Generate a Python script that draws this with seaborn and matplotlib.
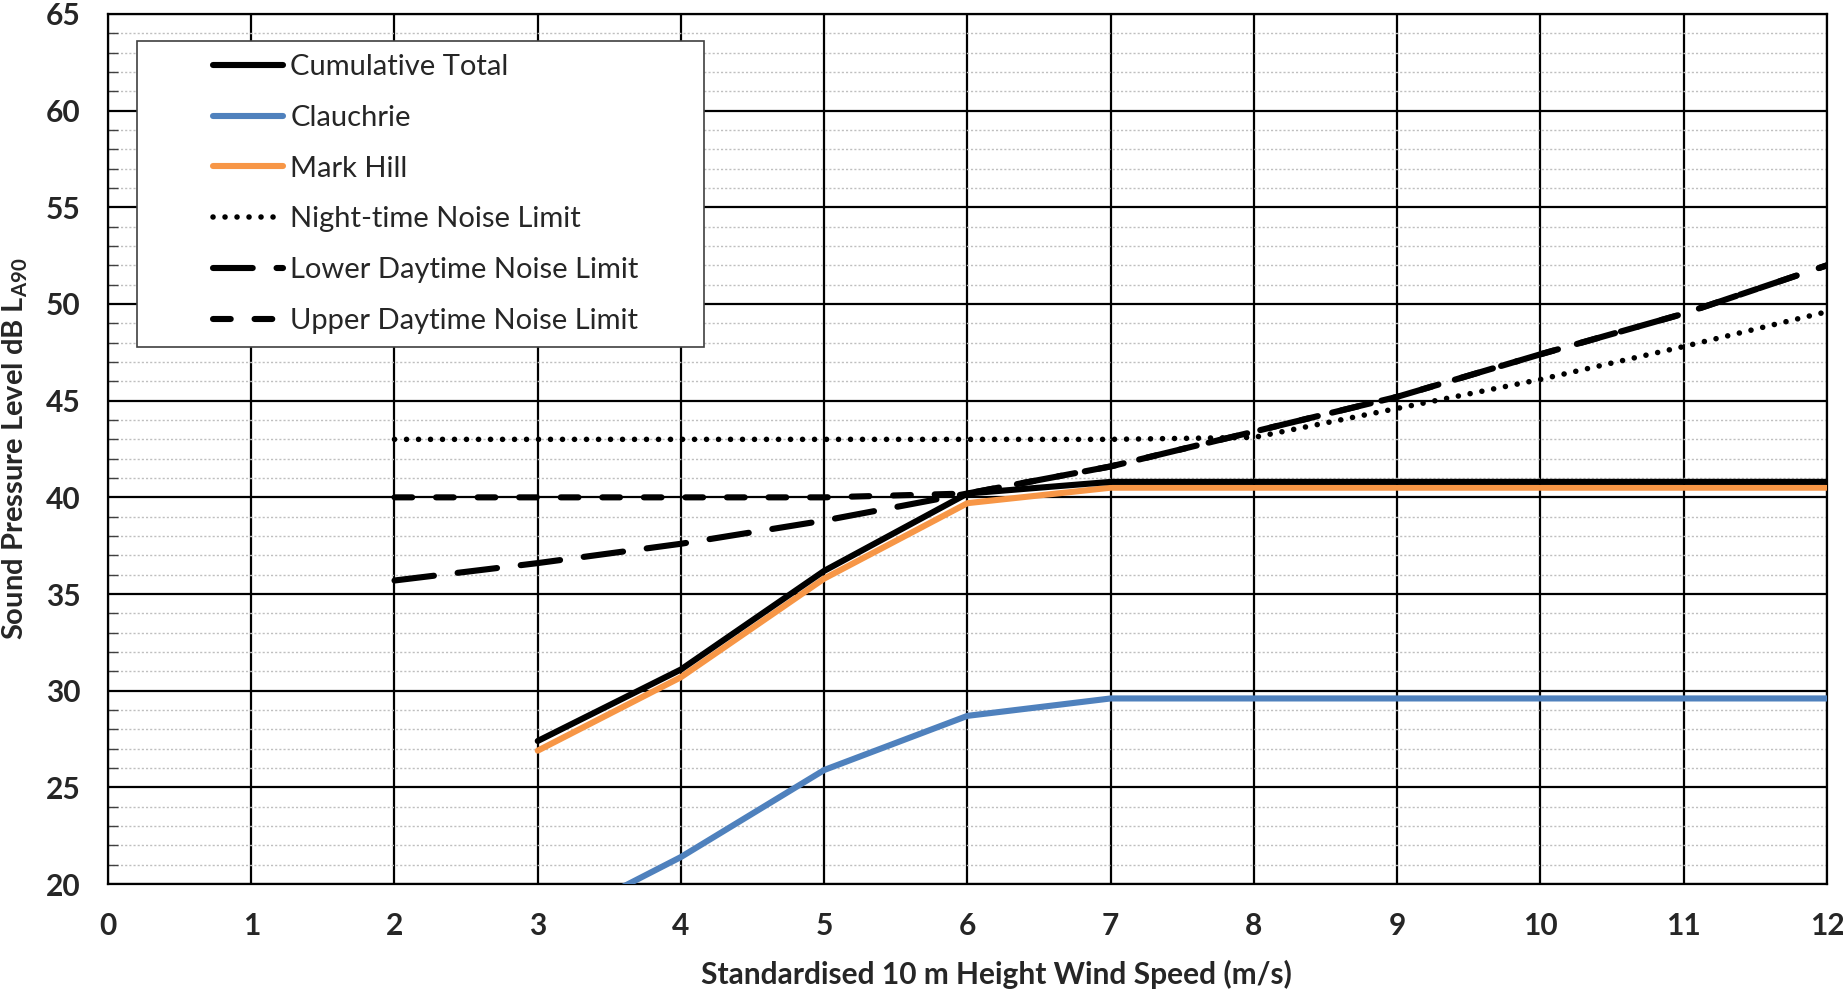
import matplotlib
matplotlib.use("Agg")
import matplotlib.pyplot as plt
import matplotlib.patches as mpatches
from matplotlib.ticker import MultipleLocator
import pandas as pd
import seaborn as sns

# ----------------------------------------------------------
# DATA
# ----------------------------------------------------------

wind_turbine = [3, 4, 5, 6, 7, 8, 9, 10, 11, 12]
cumulative   = [27.4, 31.1, 36.2, 40.2, 40.8, 40.8, 40.8, 40.8, 40.8, 40.8]
clauchrie    = [17.6, 21.4, 25.9, 28.7, 29.6, 29.6, 29.6, 29.6, 29.6, 29.6]
mark_hill    = [26.9, 30.7, 35.8, 39.7, 40.5, 40.5, 40.5, 40.5, 40.5, 40.5]

wind_limit   = [2, 3, 4, 5, 6, 7, 8, 9, 10, 11, 12]
night_limit  = [43.0, 43.0, 43.0, 43.0, 43.0, 43.0, 43.1, 44.6, 46.1, 47.8, 49.6]
lower_day    = [35.7, 36.6, 37.6, 38.8, 40.2, 41.6, 43.4, 45.2, 47.4, 49.5, 52.0]
upper_day    = [40.0, 40.0, 40.0, 40.0, 40.2, 41.6, 43.4, 45.2, 47.4, 49.5, 52.0]

turbines = pd.DataFrame({"wind": wind_turbine, "Cumulative Total": cumulative,
                         "Clauchrie": clauchrie, "Mark Hill": mark_hill})
limits = pd.DataFrame({"wind": wind_limit, "Night-time Noise Limit": night_limit,
                       "Lower Daytime Noise Limit": lower_day,
                       "Upper Daytime Noise Limit": upper_day})

# ----------------------------------------------------------
# STYLE
# ----------------------------------------------------------

sns.set_theme(style="white")
plt.rcParams["font.family"] = ["Lato", "DejaVu Sans"]
plt.rcParams["mathtext.fontset"] = "custom"
plt.rcParams["mathtext.rm"] = "Lato"
plt.rcParams["mathtext.bf"] = "Lato:bold"

fig = plt.figure(figsize=(18.43, 9.9), dpi=100)
ax = fig.add_axes([0.0586, 0.107, 0.9327, 0.8789])

LW = 4.4
sns.lineplot(data=turbines, x="wind", y="Cumulative Total", ax=ax, color="black",
             linewidth=LW, label="Cumulative Total", zorder=4)
sns.lineplot(data=turbines, x="wind", y="Clauchrie", ax=ax, color="#4F81BD",
             linewidth=LW, label="Clauchrie", zorder=3)
sns.lineplot(data=turbines, x="wind", y="Mark Hill", ax=ax, color="#F79646",
             linewidth=LW, label="Mark Hill", zorder=3)
sns.lineplot(data=limits, x="wind", y="Night-time Noise Limit", ax=ax, color="black",
             linewidth=4.0, linestyle=(0, (0.01, 2.15)), dash_capstyle="round",
             label="Night-time Noise Limit", zorder=3)
sns.lineplot(data=limits, x="wind", y="Lower Daytime Noise Limit", ax=ax, color="black",
             linewidth=LW, linestyle=(0, (6.5, 3.9)), dash_capstyle="round",
             label="Lower Daytime Noise Limit", zorder=3)
sns.lineplot(data=limits, x="wind", y="Upper Daytime Noise Limit", ax=ax, color="black",
             linewidth=LW, linestyle=(0, (2.9, 3.9)), dash_capstyle="round",
             label="Upper Daytime Noise Limit", zorder=3)

# ----------------------------------------------------------
# AXES
# ----------------------------------------------------------

ax.set_xlim(0, 12)
ax.set_ylim(20, 65)
ax.xaxis.set_major_locator(MultipleLocator(1))
ax.yaxis.set_major_locator(MultipleLocator(5))
ax.yaxis.set_minor_locator(MultipleLocator(1))
ax.set_axisbelow(True)

ax.grid(which="major", axis="both", color="black", linewidth=1.6)
ax.grid(which="minor", axis="y", color="#BFBFBF", linewidth=1.0, linestyle=(0, (1.5, 1.5)))

for sp in ax.spines.values():
    sp.set_color("black")
    sp.set_linewidth(1.6)

ax.tick_params(axis="x", which="major", direction="out", length=9, width=1,
               color="black", pad=11, labelsize=21.5)
ax.tick_params(axis="y", which="major", direction="in", length=7, width=1.5,
               color="black", pad=20, labelsize=21.5)
ax.tick_params(axis="y", which="minor", direction="in", length=7, width=1,
               color="#404040", left=True)
for lab in ax.get_xticklabels() + ax.get_yticklabels():
    lab.set_fontweight("bold")

ax.set_xlabel("Standardised 10 m Height Wind Speed (m/s)", fontsize=21.5,
              fontweight="bold", va="center")
ax.xaxis.set_label_coords(0.5166, -0.1034)
ax.set_ylabel(r"Sound Pressure Level dB L$_\mathbf{A90}$", fontsize=21,
              fontweight="bold", va="center")
ax.yaxis.set_label_coords(-0.0541, 0.5)

# ----------------------------------------------------------
# LEGEND (Excel-style box drawn separately)
# ----------------------------------------------------------

box = mpatches.Rectangle((0.0743, 0.6495), 0.3077, 0.309, transform=fig.transFigure,
                         facecolor="white", edgecolor="#404040", linewidth=1.2,
                         zorder=6, clip_on=False)
ax.add_patch(box)

leg = ax.legend(loc="upper left", bbox_to_anchor=(213 / 1843, 1 - 54 / 990),
                bbox_transform=fig.transFigure, frameon=False, fontsize=21,
                borderpad=0, borderaxespad=0, handlelength=2.4, handletextpad=0.25,
                labelspacing=0.85)
leg.set_zorder(7)

fig.savefig("out.png", dpi=100)
